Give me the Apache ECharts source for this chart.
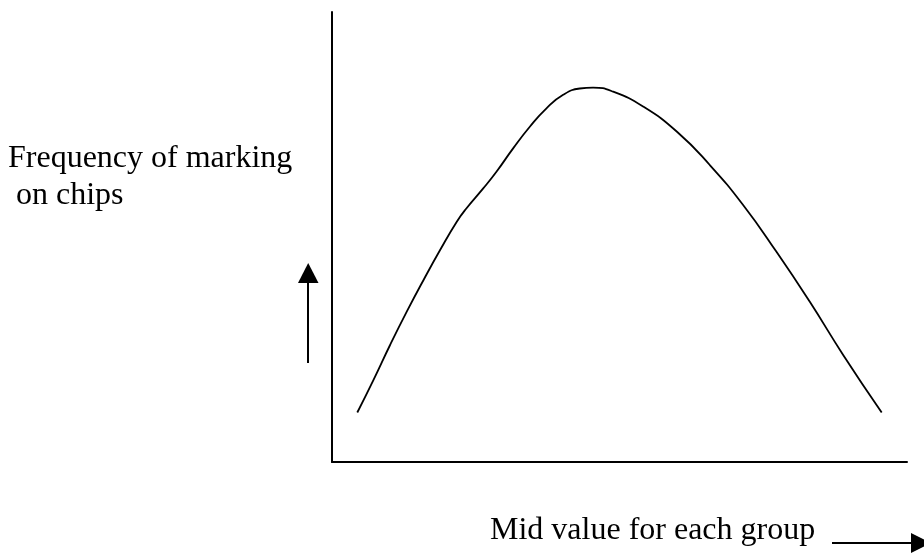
<!DOCTYPE html>
<html>
<head>
<meta charset="utf-8">
<script src="https://cdn.jsdelivr.net/npm/echarts@6/dist/echarts.min.js"></script>
<style>
html,body{margin:0;padding:0;background:#fff;}
#c{width:924px;height:554px;}
</style>
</head>
<body>
<div id="c"></div>
<script>
// Data (arbitrary units, 0-100 on both axes)
var midValues = [4.4, 7.2, 10.1, 13.0, 15.9, 18.8, 21.7, 23.4, 26.3, 28.6, 31.5, 34.4, 37.3, 40.2, 43.1, 45.4, 48.9, 54.1, 60.0, 65.7, 71.5, 77.3, 83.1, 88.9, 95.6];
var frequencies = [11.0, 18.2, 26.0, 33.4, 40.4, 47.1, 53.4, 56.4, 60.8, 64.5, 69.7, 74.5, 78.6, 81.6, 83.0, 83.2, 82.3, 79.0, 73.4, 66.0, 57.1, 46.7, 35.6, 23.8, 11.0];
var yLabelLines = ['Frequency of marking', ' on chips'];
var xLabel = 'Mid value for each group';

var points = midValues.map(function (x, i) { return [x, frequencies[i]]; });

var FONT = '32px "Liberation Serif", "Times New Roman", serif';

var chart = echarts.init(document.getElementById('c'), null, {renderer: 'canvas'});
chart.setOption({
  backgroundColor: '#ffffff',
  animation: false,
  grid: {left: 332, top: 12, right: 17, bottom: 92},
  xAxis: {
    type: 'value', min: 0, max: 100,
    axisLine: {show: true, lineStyle: {color: '#000', width: 2}},
    axisTick: {show: false}, axisLabel: {show: false}, splitLine: {show: false}
  },
  yAxis: {
    type: 'value', min: 0, max: 100,
    axisLine: {show: true, lineStyle: {color: '#000', width: 2}},
    axisTick: {show: false}, axisLabel: {show: false}, splitLine: {show: false}
  },
  series: [{
    type: 'line',
    data: points,
    smooth: 0.5,
    showSymbol: false,
    lineStyle: {color: '#000', width: 1.8}
  }],
  graphic: [
    {type: 'text', x: 8, y: 159, style: {text: yLabelLines[0], font: FONT, fill: '#000', verticalAlign: 'middle', align: 'left'}},
    {type: 'text', x: 8, y: 196, style: {text: yLabelLines[1], font: FONT, fill: '#000', verticalAlign: 'middle', align: 'left'}},
    {type: 'text', x: 490, y: 531, style: {text: xLabel, font: FONT, fill: '#000', verticalAlign: 'middle', align: 'left'}},
    {type: 'polyline', shape: {points: [[308, 363], [308, 282]]}, style: {stroke: '#000', lineWidth: 2, fill: null}},
    {type: 'polygon', shape: {points: [[298, 283], [318.5, 283], [308.2, 263]]}, style: {fill: '#000'}},
    {type: 'polyline', shape: {points: [[832, 543], [913, 543]]}, style: {stroke: '#000', lineWidth: 2, fill: null}},
    {type: 'polygon', shape: {points: [[911, 533], [911, 553], [931, 543]]}, style: {fill: '#000'}}
  ]
});
</script>
</body>
</html>
